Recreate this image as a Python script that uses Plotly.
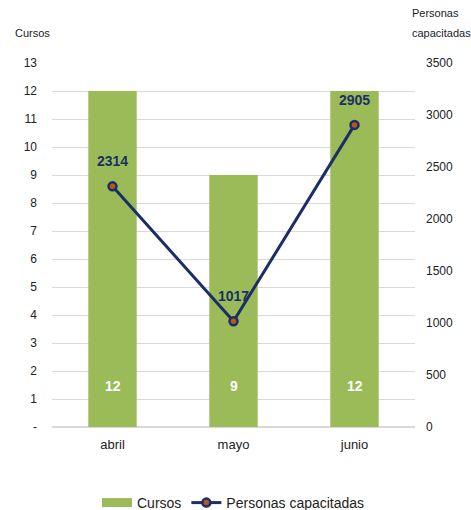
import plotly.graph_objects as go

meses = ["abril", "mayo", "junio"]
cursos = [12, 9, 12]
personas = [2314, 1017, 2905]
left_ticks = list(range(0, 14))
left_ticktext = ["-"] + [str(v) for v in range(1, 14)]
right_ticks = list(range(0, 3501, 500))

FONT = "Liberation Sans Narrow, Arial Narrow, Liberation Sans, Arial, sans-serif"
GREEN = "#9bbb59"
NAVY = "#1b2f66"

L, R, T, B = 52, 56, 63, 83
W, H = 471, 510
PW, PH = W - L - R, H - T - B

fig = go.Figure()
fig.add_trace(go.Bar(
    x=meses, y=cursos, name="Cursos", marker=dict(color=GREEN, line=dict(width=0)),
    yaxis="y", showlegend=False, legendgroup="c",
))
# legend proxy with a wide rectangle-like symbol
fig.add_trace(go.Scatter(
    x=[None], y=[None], name="Cursos", mode="lines", legendgroup="c",
    line=dict(color=GREEN, width=9), yaxis="y", hoverinfo="skip",
))
fig.add_trace(go.Scatter(
    x=meses, y=personas, name="Personas capacitadas", mode="lines+markers",
    line=dict(color=NAVY, width=3),
    marker=dict(symbol="circle", size=8, color="#b8561b", line=dict(color=NAVY, width=2.5)),
    yaxis="y2",
))

annotations = []
for m, c in zip(meses, cursos):
    annotations.append(dict(x=m, y=1.45, xref="x", yref="y", text=f"<b>{c}</b>",
                            showarrow=False, font=dict(family=FONT, size=14, color="white")))
for m, p in zip(meses, personas):
    annotations.append(dict(x=m, y=p, xref="x", yref="y2", text=f"<b>{p}</b>",
                            showarrow=False, yshift=25,
                            font=dict(family=FONT, size=14, color=NAVY)))
annotations.append(dict(xref="paper", yref="paper", x=-(L - 13) / PW, y=1 + (T - 33) / PH,
                        xanchor="left", yanchor="middle", showarrow=False, text="Cursos",
                        font=dict(family=FONT, size=11, color="#222")))
for txt, py in (("Personas", 13), ("capacitadas", 33)):
    annotations.append(dict(xref="paper", yref="paper", x=(410 - L) / PW, y=1 + (T - py) / PH,
                            xanchor="left", yanchor="middle", showarrow=False, text=txt,
                            font=dict(family=FONT, size=11, color="#222")))

fig.update_layout(
    width=W, height=H,
    margin=dict(l=L, r=R, t=T, b=B, autoexpand=False),
    paper_bgcolor="white", plot_bgcolor="white",
    font=dict(family=FONT, size=12, color="#222"),
    bargap=0.6,
    showlegend=True,
    legend=dict(orientation="h", x=0.5, xanchor="center", y=-(503 - 427) / PH,
                yanchor="middle", traceorder="normal",
                font=dict(family=FONT, size=14, color="#222")),
    xaxis=dict(showgrid=False, showline=False, ticks="", tickfont=dict(size=13),
               ticklabelstandoff=8, automargin=False),
    yaxis=dict(range=[0, 13], tickvals=left_ticks, ticktext=left_ticktext,
               showgrid=True, gridcolor="#d9d9d9", gridwidth=1, zeroline=True,
               zerolinecolor="#d9d9d9", ticks="", ticklabelstandoff=14,
               automargin=False),
    yaxis2=dict(range=[0, 3500], tickvals=right_ticks, overlaying="y", side="right",
                showgrid=False, zeroline=False, ticks="", ticklabelstandoff=10,
                automargin=False),
    annotations=annotations,
)

fig.write_html("out.html", config={"displayModeBar": False},
               post_script="document.body.style.margin='0';")
